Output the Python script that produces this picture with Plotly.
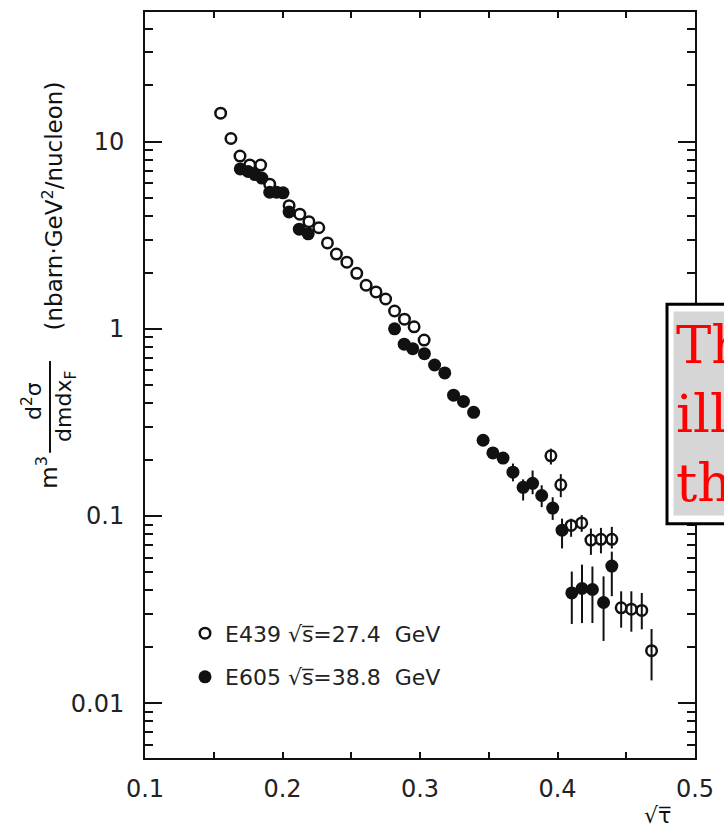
import plotly.graph_objects as go

# ---------------- data ----------------
# E439, sqrt(s) = 27.4 GeV  (open circles)
e439_x = [0.155, 0.1625, 0.1691, 0.1762, 0.1841, 0.1907, 0.2048, 0.2126, 0.2192, 0.2264,
          0.2327, 0.2392, 0.2468, 0.254, 0.2608, 0.268, 0.275, 0.2815, 0.2887, 0.2957,
          0.303, 0.3952, 0.4024, 0.4099, 0.4176, 0.4243, 0.4316, 0.4395, 0.4463, 0.4537,
          0.4613, 0.4684]
e439_y = [14.2, 10.4, 8.38, 7.51, 7.5, 5.93, 4.55, 4.10, 3.74, 3.47,
          2.88, 2.51, 2.27, 1.98, 1.71, 1.575, 1.444, 1.246, 1.126, 1.025,
          0.871, 0.2096, 0.1468, 0.0891, 0.0918, 0.0744, 0.0751, 0.0751, 0.0323, 0.0318,
          0.0313, 0.01907]
e439_bar_top = [None] * 21 + [0.229, 0.1674, 0.0968, 0.1012, 0.0857, 0.0864, 0.0875,
                              0.0396, 0.0396, 0.0388, 0.0249]
e439_bar_bot = [None] * 21 + [0.1884, 0.126, 0.0774, 0.0823, 0.0620, 0.0632, 0.0671,
                              0.0253, 0.0241, 0.0248, 0.01323]

# E605, sqrt(s) = 38.8 GeV  (filled circles)
e605_x = [0.1693, 0.175, 0.18, 0.185, 0.1907, 0.1957, 0.2004, 0.2048, 0.2122, 0.2187,
          0.2815, 0.2885, 0.2947, 0.3032, 0.3106, 0.318, 0.3244, 0.3316, 0.339, 0.3459,
          0.353, 0.3604, 0.3676, 0.375, 0.3819, 0.3885, 0.3965, 0.4033, 0.4104, 0.4178,
          0.4254, 0.4335, 0.4395]
e605_y = [7.15, 6.93, 6.67, 6.39, 5.37, 5.37, 5.33, 4.21, 3.41, 3.22,
          1.0, 0.828, 0.784, 0.737, 0.641, 0.5815, 0.442, 0.4095, 0.358, 0.254,
          0.2173, 0.204, 0.1715, 0.1423, 0.1495, 0.1287, 0.1103, 0.084, 0.0388, 0.041,
          0.0405, 0.0345, 0.054]
e605_bar_top = [None] * 22 + [0.1907, 0.157, 0.175, 0.1459, 0.126, 0.0968, 0.0505, 0.055,
                              0.0537, 0.0476, 0.0645]
e605_bar_bot = [None] * 22 + [0.1532, 0.121, 0.1307, 0.1116, 0.0953, 0.0671, 0.0265, 0.0268,
                              0.0268, 0.0215, 0.0373]

x_tick_vals = [0.1, 0.2, 0.3, 0.4, 0.5]
x_tick_text = ["0.1", "0.2", "0.3", "0.4", "0.5"]
y_tick_vals = [0.01, 0.1, 1, 10]
y_tick_text = ["0.01", "0.1", "1", "10"]

legend_e439 = "E439 √s̅=27.4  GeV"
legend_e605 = "E605 √s̅=38.8  GeV"

# ---------------- helpers ----------------
def plus(y, top):
    return [(t - v) if t is not None else 0 for v, t in zip(y, top)]

def minus(y, bot):
    return [(v - b) if b is not None else 0 for v, b in zip(y, bot)]

INK = "#111111"
FONT = "DejaVu Sans"

fig = go.Figure()

fig.add_trace(go.Scatter(
    x=e439_x, y=e439_y, mode="markers", name=legend_e439, legendgroup="a",
    marker=dict(symbol="circle-open", size=10.5, color=INK, line=dict(width=2.5, color=INK)),
    error_y=dict(type="data", symmetric=False, array=plus(e439_y, e439_bar_top),
                 arrayminus=minus(e439_y, e439_bar_bot), thickness=2, width=0, color=INK),
))
fig.add_trace(go.Scatter(
    x=e605_x, y=e605_y, mode="markers", name=legend_e605, legendgroup="b",
    marker=dict(symbol="circle", size=13, color=INK, line=dict(width=0)),
    error_y=dict(type="data", symmetric=False, array=plus(e605_y, e605_bar_top),
                 arrayminus=minus(e605_y, e605_bar_bot), thickness=2, width=0, color=INK),
))

y_minor = [m * 10 ** k for k in range(-3, 2) for m in range(2, 10)]
x_minor = [0.15, 0.25, 0.35, 0.45]

fig.update_xaxes(
    range=[0.1, 0.5], tickvals=x_tick_vals, ticktext=x_tick_text,
    ticks="inside", ticklen=6, tickwidth=2, tickcolor=INK,
    minor=dict(tickvals=x_minor, ticks="inside", ticklen=6, tickwidth=2, tickcolor=INK),
    showline=True, linecolor=INK, linewidth=2, mirror="ticks",
    showgrid=False, zeroline=False, ticklabelstandoff=8,
    tickfont=dict(family=FONT, size=24, color="#222222"),
)
fig.update_yaxes(
    type="log", range=[-2.293, 1.693], tickvals=y_tick_vals, ticktext=y_tick_text,
    ticks="inside", ticklen=17, tickwidth=2, tickcolor=INK,
    minor=dict(tickvals=y_minor, ticks="inside", ticklen=8, tickwidth=2, tickcolor=INK),
    showline=True, linecolor=INK, linewidth=2, mirror="ticks",
    showgrid=False, zeroline=False, ticklabelstandoff=14,
    tickfont=dict(family=FONT, size=24, color="#222222"),
)

annotations = [
    # x axis title
    dict(text="√τ̅", x=(657 - 145) / 550, y=(758 - 816) / 748, xref="paper", yref="paper",
         showarrow=False, font=dict(family=FONT, size=22, color=INK), xanchor="center", yanchor="middle"),
    # y axis title pieces (rotated)
    dict(text="(nbarn·GeV<sup>2</sup>/nucleon)", x=(53 - 145) / 550, y=(758 - 205) / 748,
         xref="paper", yref="paper", showarrow=False, textangle=-90,
         font=dict(family=FONT, size=23, color=INK), xanchor="center", yanchor="middle"),
    dict(text="m<sup>3</sup>", x=(47 - 145) / 550, y=(758 - 472) / 748,
         xref="paper", yref="paper", showarrow=False, textangle=-90,
         font=dict(family=FONT, size=23, color=INK), xanchor="center", yanchor="middle"),
    dict(text="d<sup>2</sup>σ", x=(32 - 145) / 550, y=(758 - 400) / 748,
         xref="paper", yref="paper", showarrow=False, textangle=-90,
         font=dict(family=FONT, size=22, color=INK), xanchor="center", yanchor="middle"),
    dict(text="dmdx<sub>F</sub>", x=(66 - 145) / 550, y=(758 - 406) / 748,
         xref="paper", yref="paper", showarrow=False, textangle=-90,
         font=dict(family=FONT, size=22, color=INK), xanchor="center", yanchor="middle"),
    # overlay text box
    dict(text="This chart<br>illustrates<br>the data", x=(673 - 145) / 550, y=(758 - 310) / 748,
         xref="paper", yref="paper", showarrow=False, xanchor="left", yanchor="top",
         align="left", bgcolor="#d6d6d6", borderpad=2,
         font=dict(family="DejaVu Serif", size=53, color="#ff0000")),
]

shapes = [
    dict(type="line", xref="paper", yref="paper", x0=(50 - 145) / 550, x1=(50 - 145) / 550,
         y0=(758 - 452) / 748, y1=(758 - 360) / 748, line=dict(color=INK, width=2)),
    dict(type="rect", xref="paper", yref="paper", x0=(667 - 145) / 550, x1=(800 - 145) / 550,
         y0=(758 - 523) / 748, y1=(758 - 303) / 748, line=dict(color="#000000", width=3),
         fillcolor="#ffffff", layer="above"),
]

fig.update_layout(
    width=724, height=830,
    margin=dict(l=145, r=29, t=10, b=72),
    paper_bgcolor="white", plot_bgcolor="white",
    showlegend=True,
    legend=dict(x=(185 - 145) / 550, y=(758 - 612) / 748, xanchor="left", yanchor="top",
                bgcolor="rgba(0,0,0,0)", traceorder="grouped", tracegroupgap=12,
                font=dict(family=FONT, size=22, color="#222222"), itemsizing="trace"),
    annotations=annotations, shapes=shapes,
)

fig.write_html("out.html")
